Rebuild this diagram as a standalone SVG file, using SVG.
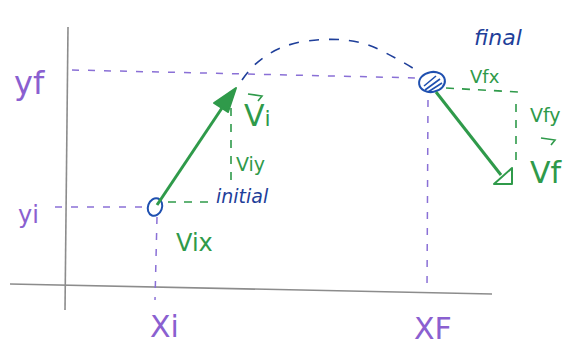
<svg xmlns="http://www.w3.org/2000/svg" width="584" height="347" viewBox="0 0 584 347">
<style>
.axis{stroke:#8c8c8c;stroke-width:1.6;fill:none}
.pdash{stroke:#8a70d6;stroke-width:1.5;fill:none;stroke-dasharray:7 9}
.gdash{stroke:#2f9a4a;stroke-width:1.6;fill:none;stroke-dasharray:8 8}
.bdash{stroke:#1f3f9a;stroke-width:1.6;fill:none;stroke-dasharray:10 10}
.vec{stroke:#2f9a4a;stroke-width:3;fill:none}
.head{fill:#2f9a4a;stroke:#2f9a4a;stroke-width:2;stroke-linejoin:round}
.pt{fill:none;stroke:#1f50b0;stroke-width:2}
.tp{fill:#8a60d0;font-family:"DejaVu Sans",sans-serif}
.tg{fill:#2f9a4a;font-family:"DejaVu Sans",sans-serif}
.tb{fill:#1f3f9a;font-family:"DejaVu Sans",sans-serif;font-style:italic}
</style>
<rect width="584" height="347" fill="#ffffff"/>
<g id="axes">
<line class="axis" x1="68" y1="27" x2="65" y2="310"/>
<line class="axis" x1="10" y1="284" x2="492" y2="294"/>
</g>
<g id="connectors">
<path class="pdash" d="M72 70 L420 78"/>
<path class="pdash" d="M55 207 L145 207"/>
<path class="pdash" d="M157 217 L155 300"/>
<path class="pdash" d="M428 100 L427 290"/>
<path class="bdash" d="M242 80 Q262 50 300 42 Q350 34 380 50 Q400 60 416 70"/>
<path class="gdash" d="M168 202 L214 202"/>
<path class="gdash" d="M231 108 L231 186"/>
<path class="gdash" d="M446 88 L518 92"/>
<path class="gdash" d="M516 104 L516 160"/>
</g>
<g id="initial-point">
<ellipse class="pt" cx="155" cy="207" rx="7" ry="9" transform="rotate(20 155 207)"/>
<text class="tb" x="216" y="203" font-size="19">initial</text>
</g>
<g id="final-point">
<ellipse class="pt" cx="432" cy="82" rx="13" ry="10" transform="rotate(-10 432 82)"/>
<path d="M424 86 L436 76 M425 90 L440 79 M428 92 L442 83" stroke="#1f50b0" stroke-width="1.6"/>
<text class="tb" x="474" y="45" font-size="22">final</text>
</g>
<g id="vi-vector">
<line class="vec" x1="157" y1="205" x2="222" y2="108"/>
<polygon class="head" points="236,88 214,103 228,112"/>
<path d="M248 94 L262 96 L258 101" stroke="#2f9a4a" stroke-width="1.6" fill="none"/>
<text class="tg" x="244" y="126" font-size="30">V<tspan font-size="22">i</tspan></text>
<text class="tg" x="236" y="171" font-size="19">Viy</text>
<text class="tg" x="176" y="251" font-size="24">Vix</text>
</g>
<g id="vf-vector">
<line class="vec" x1="436" y1="92" x2="501" y2="175"/>
<polygon class="head" points="512,168 512,184 494,184" fill="none" style="fill:none"/>
<path d="M541 138 L555 140 L551 145" stroke="#2f9a4a" stroke-width="1.6" fill="none"/>
<text class="tg" x="530" y="183" font-size="30">Vf</text>
<text class="tg" x="470" y="83" font-size="18">Vfx</text>
<text class="tg" x="530" y="122" font-size="19">Vfy</text>
</g>
<g id="labels">
<text class="tp" x="14" y="94" font-size="32">yf</text>
<text class="tp" x="18" y="223" font-size="24">yi</text>
<text class="tp" x="150" y="337" font-size="30">Xi</text>
<text class="tp" x="414" y="339" font-size="30">XF</text>
</g>
</svg>
